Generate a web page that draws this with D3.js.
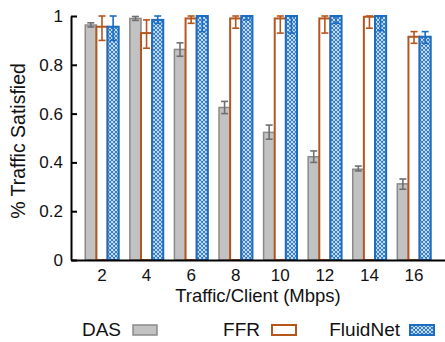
<!DOCTYPE html>
<html>
<head>
<meta charset="utf-8">
<script src="https://cdn.jsdelivr.net/npm/d3@7"></script>
<style>
  body { margin: 0; background: #fff; }
  svg text { font-family: "Liberation Sans", Arial, Helvetica, sans-serif; fill: #111; }
</style>
</head>
<body>
<div id="chart"></div>
<script>
// data
const categories = ['2', '4', '6', '8', '10', '12', '14', '16'];
const seriesNames = ['DAS', 'FFR', 'FluidNet'];
const das = [0.963, 0.99, 0.863, 0.625, 0.523, 0.423, 0.372, 0.312];
const dasLo = [0.955, 0.982, 0.835, 0.60, 0.495, 0.40, 0.365, 0.29];
const dasHi = [0.972, 0.998, 0.89, 0.65, 0.553, 0.447, 0.385, 0.332];
const ffr = [0.956, 0.93, 0.99, 0.99, 0.99, 0.99, 0.997, 0.915];
const ffrLo = [0.90, 0.868, 0.97, 0.95, 0.93, 0.93, 0.95, 0.888];
const ffrHi = [1.0, 0.984, 1.0, 1.0, 1.0, 1.0, 1.0, 0.936];
const fluid = [0.956, 0.984, 1.0, 1.0, 1.0, 1.0, 1.0, 0.915];
const fluidLo = [0.90, 0.97, 0.936, 0.985, 0.93, 0.97, 0.94, 0.888];
const fluidHi = [1.0, 1.0, 1.0, 1.0, 1.0, 1.0, 1.0, 0.936];
const yTicks = [0, 0.2, 0.4, 0.6, 0.8, 1];

const width = 445;
const height = 342;
const margin = {top: 16, right: 0, bottom: 82, left: 71};

const styles = {
  DAS: {fill: '#c2c2c2', stroke: '#8a8a8a', err: '#6f6f6f', sw: 1.5},
  FFR: {fill: '#fff', stroke: '#b5561f', err: '#b5561f', sw: 2},
  FluidNet: {fill: 'url(#hatch)', stroke: '#1c6dc1', err: '#1c6dc1', sw: 2}
};

const rows = seriesNames.map((name, si) => {
  const vals = [das, ffr, fluid][si];
  const lo = [dasLo, ffrLo, fluidLo][si];
  const hi = [dasHi, ffrHi, fluidHi][si];
  return categories.map((c, i) => ({series: name, cat: c, v: vals[i], lo: lo[i], hi: hi[i]}));
}).flat();

const svg = d3.select('#chart')
  .append('svg')
  .attr('width', width)
  .attr('height', height);

const defs = svg.append('defs');
const pat = defs.append('pattern')
  .attr('id', 'hatch')
  .attr('patternUnits', 'userSpaceOnUse')
  .attr('width', 4)
  .attr('height', 4);
pat.append('rect').attr('width', 4).attr('height', 4).attr('fill', '#fff');
pat.append('path')
  .attr('d', 'M-1,1 L1,-1 M0,4 L4,0 M3,5 L5,3 M-1,3 L1,5 M0,0 L4,4 M3,-1 L5,1')
  .attr('stroke', '#2a78cc')
  .attr('stroke-width', 1.1);

const x = d3.scaleBand()
  .domain(categories)
  .range([margin.left, width])
  .paddingOuter(0.195)
  .paddingInner(0);

const x1 = d3.scaleBand()
  .domain(seriesNames)
  .range([0, x.bandwidth()])
  .paddingOuter(0.5)
  .paddingInner(0);

const y = d3.scaleLinear()
  .domain([0, 1])
  .range([height - margin.bottom, margin.top]);

// bars
svg.append('g')
  .selectAll('rect')
  .data(rows)
  .enter()
  .append('rect')
  .attr('x', d => x(d.cat) + x1(d.series))
  .attr('y', d => y(d.v))
  .attr('width', x1.bandwidth())
  .attr('height', d => y(0) - y(d.v))
  .attr('fill', d => styles[d.series].fill)
  .attr('stroke', d => styles[d.series].stroke)
  .attr('stroke-width', d => styles[d.series].sw);

// error bars
const errG = svg.append('g')
  .selectAll('g')
  .data(rows)
  .enter()
  .append('g')
  .attr('stroke', d => styles[d.series].err)
  .attr('stroke-width', 1.6);

const cx = d => x(d.cat) + x1(d.series) + x1.bandwidth() / 2;
errG.append('line')
  .attr('x1', cx).attr('x2', cx)
  .attr('y1', d => y(d.lo)).attr('y2', d => y(d.hi));
errG.append('line')
  .attr('x1', d => cx(d) - 3.5).attr('x2', d => cx(d) + 3.5)
  .attr('y1', d => y(d.lo)).attr('y2', d => y(d.lo));
errG.append('line')
  .attr('x1', d => cx(d) - 3.5).attr('x2', d => cx(d) + 3.5)
  .attr('y1', d => y(d.hi)).attr('y2', d => y(d.hi));

// axes
const yAxis = svg.append('g')
  .attr('transform', `translate(${margin.left}, 0)`)
  .call(d3.axisLeft(y)
    .tickValues(yTicks)
    .tickFormat(d3.format('~g'))
    .tickSizeInner(-6)
    .tickSizeOuter(0)
    .tickPadding(8));

const xAxis = svg.append('g')
  .attr('transform', `translate(0, ${y(0)})`)
  .call(d3.axisBottom(x)
    .tickSize(0)
    .tickPadding(9));

[yAxis, xAxis].forEach(a => {
  a.select('.domain').attr('stroke', '#000').attr('stroke-width', 2);
  a.selectAll('.tick line').attr('stroke', '#000').attr('stroke-width', 2);
  a.selectAll('.tick text').attr('font-size', 17).attr('font-family', null);
});

svg.append('text')
  .attr('x', (margin.left + width) / 2)
  .attr('y', 302)
  .attr('text-anchor', 'middle')
  .attr('font-size', 18.5)
  .text('Traffic/Client (Mbps)');

svg.append('text')
  .attr('transform', `translate(25, ${(margin.top + y(0)) / 2 + 3}) rotate(-90)`)
  .attr('text-anchor', 'middle')
  .attr('font-size', 19.5)
  .text('% Traffic Satisfied');

// legend
const legendPos = [
  {name: 'DAS', tx: 121, sx: 133},
  {name: 'FFR', tx: 260, sx: 272},
  {name: 'FluidNet', tx: 400, sx: 410}
];
const legend = svg.append('g')
  .selectAll('g')
  .data(legendPos)
  .enter()
  .append('g');

legend.append('text')
  .attr('x', d => d.tx)
  .attr('y', 336)
  .attr('text-anchor', 'end')
  .attr('font-size', 19)
  .text(d => d.name);

legend.append('rect')
  .attr('x', d => d.sx)
  .attr('y', 325)
  .attr('width', 24)
  .attr('height', 10)
  .attr('fill', d => styles[d.name].fill)
  .attr('stroke', d => styles[d.name].stroke)
  .attr('stroke-width', d => styles[d.name].sw);
</script>
</body>
</html>
